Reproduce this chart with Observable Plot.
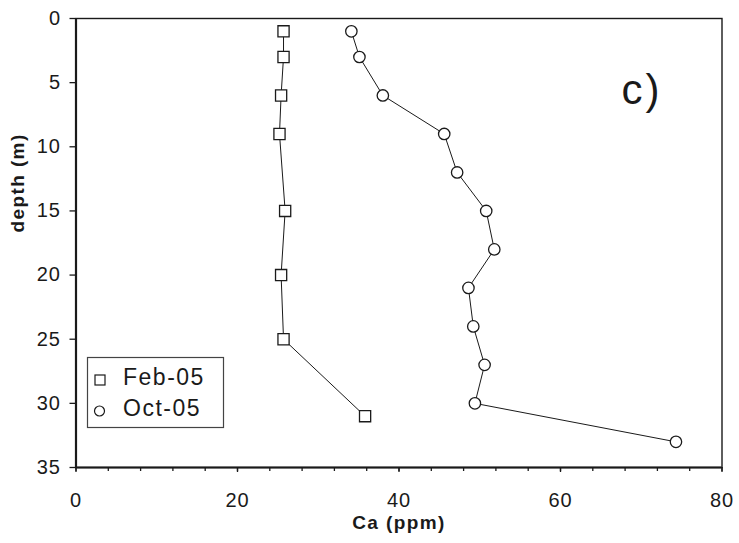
<!DOCTYPE html>
<html>
<head>
<meta charset="utf-8">
<script src="https://cdn.jsdelivr.net/npm/d3@7"></script>
<script src="https://cdn.jsdelivr.net/npm/@observablehq/plot@0.6"></script>
<style>
  html, body { margin: 0; padding: 0; background: #fff; }
  #chart { position: relative; width: 739px; height: 543px; }
  svg text { letter-spacing: 1px; }
</style>
</head>
<body>
<div id="chart"></div>
<script>
// ---- data ----
const seriesNames = ["Feb-05", "Oct-05"];
const depthFeb = [1, 3, 6, 9, 15, 20, 25, 31];
const caFeb    = [25.7, 25.7, 25.4, 25.2, 25.9, 25.4, 25.7, 35.8];
const depthOct = [1, 3, 6, 9, 12, 15, 18, 21, 24, 27, 30, 33];
const caOct    = [34.1, 35.1, 38.0, 45.6, 47.2, 50.8, 51.8, 48.6, 49.2, 50.6, 49.4, 74.3];
const xTicks = [0, 20, 40, 60, 80];
const xMinorTicks = [0, 4, 8, 12, 16, 20, 24, 28, 32, 36, 40, 44, 48, 52, 56, 60, 64, 68, 72, 76, 80];
const yTicks = [0, 5, 10, 15, 20, 25, 30, 35];
const xTitle = "Ca (ppm)";
const yTitle = "depth (m)";
const panelLabel = "c)";

const feb = depthFeb.map((d, i) => ({depth: d, ca: caFeb[i]}));
const oct = depthOct.map((d, i) => ({depth: d, ca: caOct[i]}));

const ink = "#1a1a1a";

const chart = Plot.plot({
  width: 739,
  height: 543,
  marginLeft: 75.5,
  marginRight: 17.5,
  marginTop: 18,
  marginBottom: 76,
  style: {fontFamily: "'Liberation Sans', Arial, sans-serif", fontSize: "20px", background: "#fff", color: ink},
  x: {domain: [0, 80], label: null},
  y: {domain: [0, 35], reverse: true, label: null},
  marks: [
    Plot.axisX({ticks: xMinorTicks, tickSize: 4, tickFormat: () => "", label: null, strokeWidth: 1.3}),
    Plot.axisX({ticks: xTicks, tickSize: 5, tickPadding: 20, label: null, strokeWidth: 1.3, fontSize: 20}),
    Plot.axisY({ticks: yTicks, tickSize: 6, tickPadding: 9, label: null, strokeWidth: 1.3, fontSize: 20}),
    Plot.frame({stroke: ink, strokeWidth: 1.4}),
    Plot.ruleX([0], {stroke: ink, strokeWidth: 2.2}),
    Plot.ruleY([35], {stroke: ink, strokeWidth: 2.2}),
    Plot.line(feb, {x: "ca", y: "depth", stroke: ink, strokeWidth: 1}),
    Plot.line(oct, {x: "ca", y: "depth", stroke: ink, strokeWidth: 1}),
    Plot.dot(feb, {x: "ca", y: "depth", symbol: "square", r: 6.3, fill: "#fff", stroke: ink, strokeWidth: 1.3}),
    Plot.dot(oct, {x: "ca", y: "depth", symbol: "circle", r: 5.7, fill: "#fff", stroke: ink, strokeWidth: 1.3}),
    Plot.text([xTitle], {frameAnchor: "bottom", lineAnchor: "bottom", dy: 61, fontWeight: "bold", fontSize: 19, fill: ink}),
    Plot.text([yTitle], {frameAnchor: "left", lineAnchor: "middle", rotate: -90, dx: -58.5, dy: -10.5, fontWeight: "bold", fontSize: 19, fill: ink}),
    Plot.text([panelLabel], {frameAnchor: "top-right", lineAnchor: "bottom", textAnchor: "start", dx: -100.5, dy: 85, fontSize: 42, fill: ink})
  ]
});

document.getElementById("chart").appendChild(chart);

// title letter spacing & legend
const svg = d3.select(chart);
svg.selectAll("text").filter(function() {
  const t = this.textContent;
  return t === xTitle || t === yTitle;
}).style("letter-spacing", "1.4px");
svg.selectAll("text").filter(function() { return this.textContent === panelLabel; })
  .style("letter-spacing", "3px");

const lg = svg.append("g").attr("class", "legend").attr("text-anchor", "start");
lg.append("rect").attr("x", 87.5).attr("y", 357.5).attr("width", 136).attr("height", 70)
  .attr("fill", "#fff").attr("stroke", "#444").attr("stroke-width", 1.2);
lg.append("rect").attr("x", 95).attr("y", 375).attr("width", 10).attr("height", 10)
  .attr("fill", "#fff").attr("stroke", ink).attr("stroke-width", 1.2);
lg.append("circle").attr("cx", 99.5).attr("cy", 411).attr("r", 5)
  .attr("fill", "#fff").attr("stroke", ink).attr("stroke-width", 1.2);
[seriesNames[0], seriesNames[1]].forEach((name, i) => {
  lg.append("text").attr("x", 123).attr("y", i === 0 ? 385 : 416)
    .attr("text-anchor", "start")
    .style("text-anchor", "start")
    .attr("font-size", 23).attr("fill", ink)
    .style("letter-spacing", "1.5px")
    .attr("font-family", "'Liberation Sans', Arial, sans-serif")
    .text(name);
});
</script>
</body>
</html>
